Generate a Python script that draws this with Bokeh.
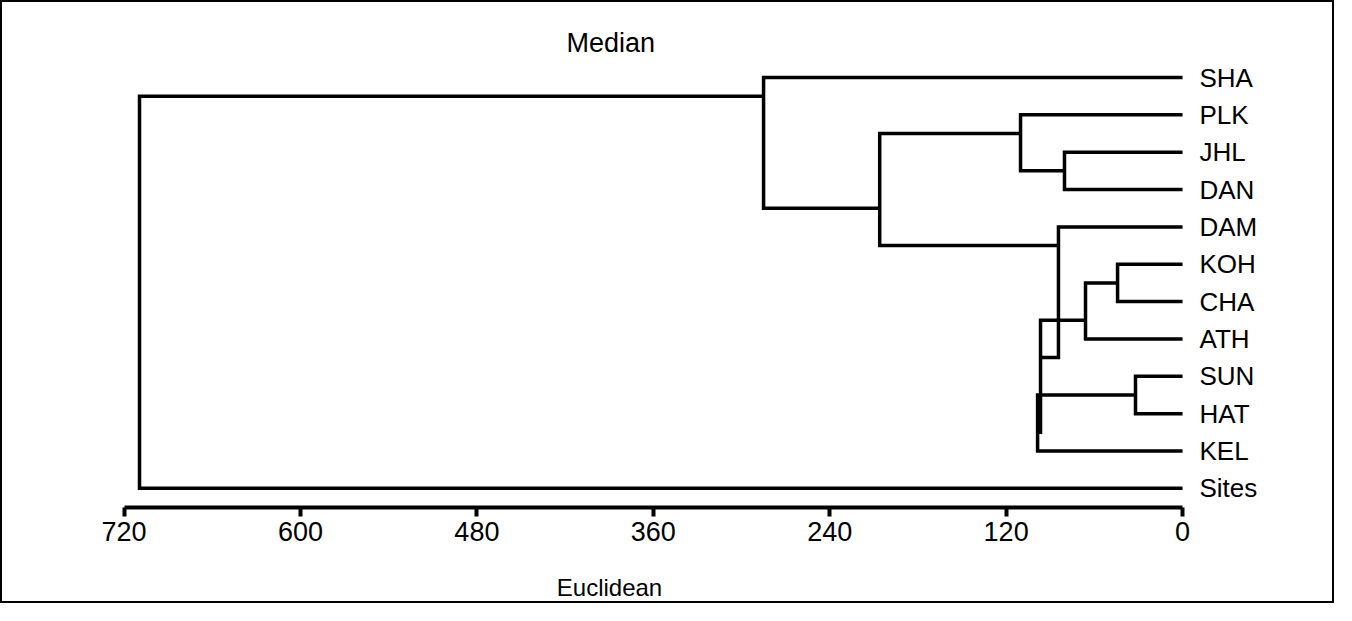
from bokeh.plotting import figure
from bokeh.models import ColumnDataSource, Range1d, FixedTicker
from bokeh.embed import file_html
from bokeh.resources import INLINE

# ---- data -------------------------------------------------------------
leaves = ["SHA", "PLK", "JHL", "DAN", "DAM", "KOH", "CHA", "ATH",
          "SUN", "HAT", "KEL", "Sites"]
node_ids = ["n1", "n2", "n3", "n5", "n4", "n6", "n7", "n8", "n9", "n10", "root"]
node_child_a = ["KOH", "n1", "SUN", "n3", "n2", "DAM", "JHL", "PLK", "n8", "SHA", "n10"]
node_child_b = ["CHA", "ATH", "HAT", "KEL", "n5", "n4", "DAN", "n7", "n6", "n9", "Sites"]
node_height = [44.2, 66.0, 32.0, 98.6, 96.6, 84.4, 80.3, 110.2, 206.0, 285.0, 709.5]
node_link = [5.5, 6.5, 8.5, 9.5, 7.5, 4.5, 2.5, 1.5, 3.5, 0.5, None]
tick_values = [720, 600, 480, 360, 240, 120, 0]

# ---- build bracket polylines -------------------------------------------
height = {name: 0.0 for name in leaves}
ypos = {name: float(i) for i, name in enumerate(leaves)}
for nid, h, lk in zip(node_ids, node_height, node_link):
    height[nid] = h
    ypos[nid] = lk

xs, ys = [], []
for nid, a, b in zip(node_ids, node_child_a, node_child_b):
    h = height[nid]
    xs.append([height[a], h, h, height[b]])
    ys.append([ypos[a], ypos[a], ypos[b], ypos[b]])

src = ColumnDataSource(dict(xs=xs, ys=ys))

FONT = "Liberation Sans"

p = figure(width=1334, height=603, output_backend="svg", toolbar_location=None,
           x_range=Range1d(802.7, -23.1), y_range=Range1d(11.513, -0.5355),
           y_axis_location="right",
           min_border_left=0, min_border_right=120, min_border_top=55,
           min_border_bottom=98, title="Median")
p.styles = {"border": "2px solid black"}
p.outline_line_color = None
p.grid.visible = False

p.title.align = "left"
p.title.offset = 564
p.title.text_font = FONT
p.title.text_font_size = "27px"
p.title.text_font_style = "normal"
p.title.text_color = "black"
p.title.standoff = -1

p.multi_line(xs="xs", ys="ys", source=src, line_color="black", line_width=3.5,
             line_join="miter")

# leaf names as the right-hand axis labels
ya = p.yaxis[0]
ya.ticker = FixedTicker(ticks=list(range(len(leaves))))
ya.major_label_overrides = {i: name for i, name in enumerate(leaves)}
ya.axis_line_color = None
ya.major_tick_line_color = None
ya.minor_tick_line_color = None
ya.major_tick_out = 0
ya.major_tick_in = 0
ya.major_label_standoff = -17
ya.major_label_text_font = FONT
ya.major_label_text_font_size = "26px"
ya.major_label_text_color = "black"

ax = p.xaxis[0]
ax.ticker = FixedTicker(ticks=tick_values)
ax.bounds = (0, 720)
ax.axis_line_width = 4
ax.major_tick_line_width = 4
ax.major_tick_out = 9
ax.major_tick_in = 0
ax.minor_tick_out = 0
ax.minor_tick_in = 0
ax.major_label_text_font = FONT
ax.major_label_text_font_size = "27px"
ax.major_label_text_color = "black"
ax.major_label_standoff = 5
ax.axis_label = "Euclidean"
ax.axis_label_text_font = FONT
ax.axis_label_text_font_size = "24px"
ax.axis_label_text_font_style = "normal"
ax.axis_label_text_color = "black"
ax.axis_label_standoff = 30

open("out.html", "w").write(file_html(p, INLINE))
